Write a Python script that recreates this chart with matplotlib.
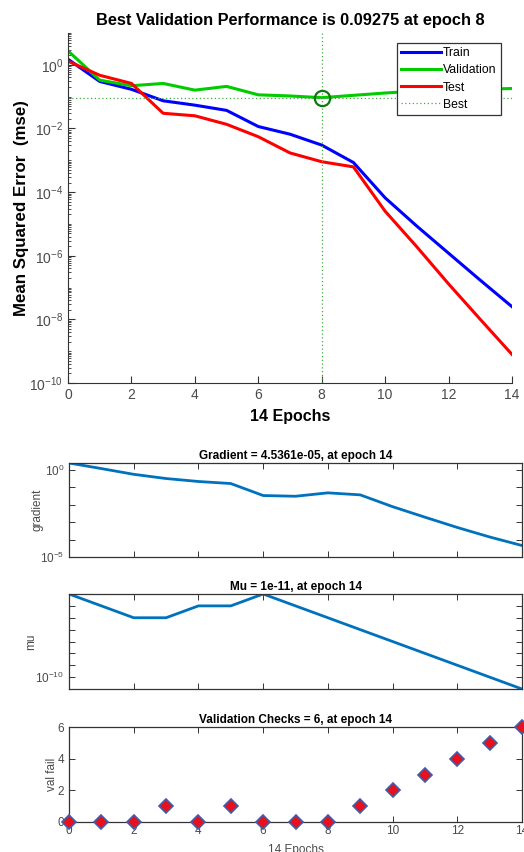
import matplotlib
matplotlib.use("Agg")
import matplotlib.pyplot as plt
import matplotlib.ticker as mticker
import numpy as np

plt.rcParams['font.family'] = ['Liberation Sans', 'DejaVu Sans']

epochs = list(range(15))
train = [1.5, 0.30, 0.17, 0.074, 0.054, 0.037, 0.0115, 0.0066, 0.0030, 8.5e-4,
         6.6e-5, 8.5e-6, 1.2e-6, 1.7e-7, 2.5e-8]
validation = [2.75, 0.33, 0.22, 0.26, 0.16, 0.21, 0.114, 0.105, 0.09275, 0.11,
              0.13, 0.15, 0.16, 0.17, 0.18]
test = [1.3, 0.47, 0.26, 0.030, 0.025, 0.0135, 0.0055, 0.0017, 9.0e-4, 6.2e-4,
        2.5e-5, 1.9e-6, 1.3e-7, 1.0e-8, 7.9e-10]
best_epoch = 8
best_perf = 0.09275

gradient = [2.4, 1.15, 0.54, 0.31, 0.21, 0.16, 0.033, 0.030, 0.047, 0.036,
            0.0076, 0.0019, 4.9e-4, 1.4e-4, 4.5361e-5]
mu = [1e-3, 1e-4, 1e-5, 1e-5, 1e-4, 1e-4, 1e-3, 1e-4, 1e-5, 1e-6,
      1e-7, 1e-8, 1e-9, 1e-10, 1e-11]
val_fail = [0, 0, 0, 1, 0, 1, 0, 0, 0, 1, 2, 3, 4, 5, 6]

W, H = 524, 852
fig = plt.figure(figsize=(W / 100, H / 100), dpi=100)

def rect(l, t, r, b):
    return [l / W, 1 - b / H, (r - l) / W, (b - t) / H]

tick_col = '#4a4a4a'
spine_col = '#333333'

# ---------------- top performance plot ----------------
ax = fig.add_axes(rect(68, 33, 512, 383))
ax.semilogy(epochs, train, color='#0000ff', lw=2.2, label='Train')
ax.semilogy(epochs, validation, color='#00cc00', lw=2.2, label='Validation')
ax.semilogy(epochs, test, color='#ff0000', lw=2.2, label='Test')
ax.axhline(best_perf, color='#44aa44', lw=0.9, ls=(0, (1, 2)), label='Best')
ax.axvline(best_epoch, color='#44aa44', lw=0.9, ls=(0, (1, 2)))
ax.plot([best_epoch], [best_perf], 'o', ms=11, mfc='none', mec='#117711', mew=1.6)
ax.set_xlim(0, 14)
ax.set_ylim(1e-10, 10)
ax.set_xticks(range(0, 15, 2))
ax.yaxis.set_major_locator(mticker.FixedLocator([10.0 ** k for k in range(-10, 1, 2)]))
ax.yaxis.set_major_formatter(mticker.LogFormatterSciNotation())
ax.yaxis.set_minor_locator(mticker.LogLocator(base=10, subs=np.arange(1, 10), numticks=30))
ax.yaxis.set_minor_formatter(mticker.NullFormatter())
for s in ['top', 'right']:
    ax.spines[s].set_visible(False)
for s in ['left', 'bottom']:
    ax.spines[s].set_color(spine_col)
ax.tick_params(direction='in', length=5, width=0.8, colors=spine_col,
               labelcolor=tick_col, labelsize=10)
ax.tick_params(which='minor', direction='in', length=2.5, width=0.6, colors=spine_col)
ax.set_title('Best Validation Performance is 0.09275 at epoch 8',
             fontsize=11.8, fontweight='bold', pad=6)
ax.set_xlabel('14 Epochs', fontsize=11.5, fontweight='bold', labelpad=5)
ax.set_ylabel('Mean Squared Error  (mse)', fontsize=12.2, fontweight='bold', labelpad=0)
leg = ax.legend(loc='upper right', bbox_to_anchor=(501 / W, 1 - 43 / H),
                bbox_transform=fig.transFigure, fontsize=8.8, frameon=True,
                fancybox=False, framealpha=1, edgecolor='#333333',
                handlelength=3.3, handletextpad=0.15, labelspacing=0.42,
                borderpad=0.35, borderaxespad=0)
leg.get_frame().set_linewidth(0.9)

# ---------------- bottom panels ----------------
line_col = '#0072bd'

def style(a):
    for s in a.spines.values():
        s.set_color(spine_col)
        s.set_linewidth(0.9)
    a.set_xlim(0, 14)
    a.set_xticks(range(0, 15, 2))
    a.tick_params(direction='in', length=4, width=0.7, colors=spine_col,
                  labelcolor=tick_col, labelsize=8.5, top=True, right=True)
    a.tick_params(which='minor', direction='in', length=4, width=0.7,
                  colors=spine_col, top=False, right=True, left=True)

ax1 = fig.add_axes(rect(69, 463, 522, 557))
ax1.semilogy(epochs, gradient, color=line_col, lw=2)
ax1.set_ylim(1e-5, gradient[0])
style(ax1)
ax1.yaxis.set_major_locator(mticker.FixedLocator([1e-5, 1e0]))
ax1.yaxis.set_major_formatter(mticker.LogFormatterSciNotation())
ax1.yaxis.set_minor_locator(mticker.FixedLocator([1e-4, 1e-3, 1e-2, 1e-1]))
ax1.yaxis.set_minor_formatter(mticker.NullFormatter())
ax1.set_xticklabels([])
ax1.set_title('Gradient = 4.5361e-05, at epoch 14', fontsize=8.5, fontweight='bold', pad=3)
ax1.set_ylabel('gradient', fontsize=8.5, color=tick_col)
ax1.yaxis.set_label_coords((43 - 69) / 453, 0.5)

ax2 = fig.add_axes(rect(69, 594, 522, 689))
ax2.semilogy(epochs, mu, color=line_col, lw=2)
ax2.set_ylim(1e-11, 1e-3)
style(ax2)
ax2.yaxis.set_major_locator(mticker.FixedLocator([1e-10]))
ax2.yaxis.set_major_formatter(mticker.LogFormatterSciNotation())
ax2.yaxis.set_minor_locator(mticker.FixedLocator([1e-9, 1e-8, 1e-7, 1e-6, 1e-5, 1e-4]))
ax2.yaxis.set_minor_formatter(mticker.NullFormatter())
ax2.set_xticklabels([])
ax2.set_title('Mu = 1e-11, at epoch 14', fontsize=8.5, fontweight='bold', pad=3)
ax2.set_ylabel('mu', fontsize=8.5, color=tick_col)
ax2.yaxis.set_label_coords((37 - 69) / 453, 0.5)

ax3 = fig.add_axes(rect(69, 727, 522, 822))
ax3.plot(epochs, val_fail, 'D', ms=6.8, mfc='#e8101a', mec='#3a5fb0', mew=1.2,
         clip_on=False, zorder=5)
ax3.set_ylim(0, 6)
style(ax3)
ax3.set_yticks([0, 2, 4, 6])
ax3.set_title('Validation Checks = 6, at epoch 14', fontsize=8.5, fontweight='bold', pad=3)
ax3.set_ylabel('val fail', fontsize=8.5, color=tick_col)
ax3.yaxis.set_label_coords((58 - 69) / 453, 0.5)
ax3.set_xlabel('14 Epochs', fontsize=8.5, color=tick_col, labelpad=5)
ax3.tick_params(axis='x', pad=2)

fig.savefig('out.png', dpi=100)
